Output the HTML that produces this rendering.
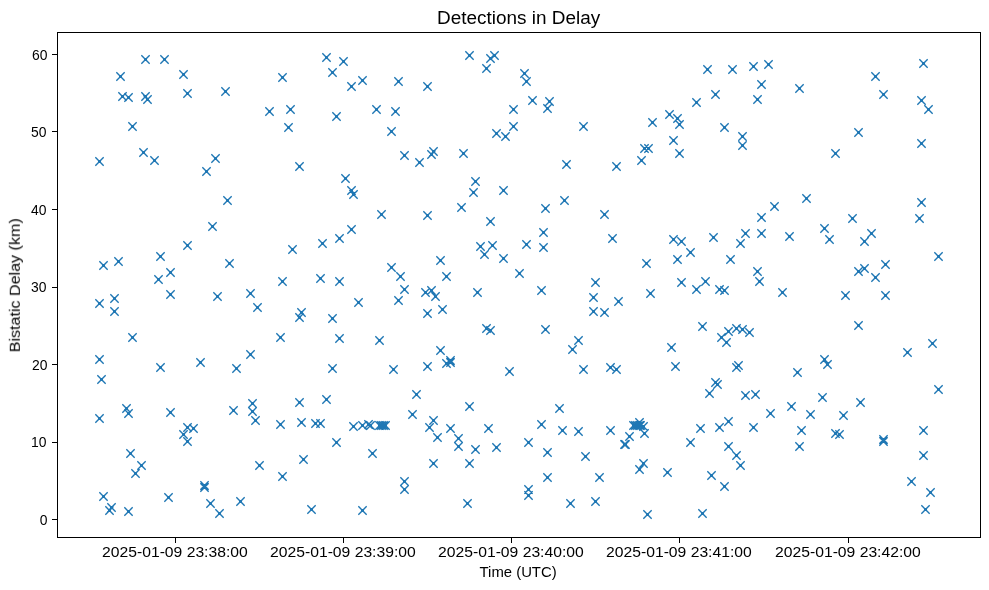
<!DOCTYPE html>
<html><head><meta charset="utf-8"><title>Detections in Delay</title>
<style>
html,body{margin:0;padding:0;background:#fff;}
svg{display:block;}
text{will-change:transform;}
.t{font-family:"Liberation Sans",sans-serif;font-size:13.9px;fill:#000;}
.ti{font-family:"Liberation Sans",sans-serif;font-size:17.5px;fill:#000;}
</style></head>
<body>
<svg width="989" height="590" viewBox="0 0 989 590">
<rect width="989" height="590" fill="#fff"/>
<path d="M141.33 55.33l8.34 8.34m0 -8.34l-8.34 8.34M160.33 55.33l8.34 8.34m0 -8.34l-8.34 8.34M116.33 72.33l8.34 8.34m0 -8.34l-8.34 8.34M179.33 70.33l8.34 8.34m0 -8.34l-8.34 8.34M118.33 92.33l8.34 8.34m0 -8.34l-8.34 8.34M124.33 93.33l8.34 8.34m0 -8.34l-8.34 8.34M141.33 92.33l8.34 8.34m0 -8.34l-8.34 8.34M143.33 95.33l8.34 8.34m0 -8.34l-8.34 8.34M183.33 89.33l8.34 8.34m0 -8.34l-8.34 8.34M221.33 87.33l8.34 8.34m0 -8.34l-8.34 8.34M128.33 122.33l8.34 8.34m0 -8.34l-8.34 8.34M322.33 53.33l8.34 8.34m0 -8.34l-8.34 8.34M339.33 57.33l8.34 8.34m0 -8.34l-8.34 8.34M328.33 68.33l8.34 8.34m0 -8.34l-8.34 8.34M278.33 73.33l8.34 8.34m0 -8.34l-8.34 8.34M347.33 82.33l8.34 8.34m0 -8.34l-8.34 8.34M358.33 76.33l8.34 8.34m0 -8.34l-8.34 8.34M394.33 77.33l8.34 8.34m0 -8.34l-8.34 8.34M423.33 82.33l8.34 8.34m0 -8.34l-8.34 8.34M265.33 107.33l8.34 8.34m0 -8.34l-8.34 8.34M286.33 105.33l8.34 8.34m0 -8.34l-8.34 8.34M284.33 123.33l8.34 8.34m0 -8.34l-8.34 8.34M332.33 112.33l8.34 8.34m0 -8.34l-8.34 8.34M372.33 105.33l8.34 8.34m0 -8.34l-8.34 8.34M391.33 107.33l8.34 8.34m0 -8.34l-8.34 8.34M387.33 127.33l8.34 8.34m0 -8.34l-8.34 8.34M465.33 51.33l8.34 8.34m0 -8.34l-8.34 8.34M486.33 54.33l8.34 8.34m0 -8.34l-8.34 8.34M490.33 51.33l8.34 8.34m0 -8.34l-8.34 8.34M482.33 64.33l8.34 8.34m0 -8.34l-8.34 8.34M520.33 69.33l8.34 8.34m0 -8.34l-8.34 8.34M522.33 77.33l8.34 8.34m0 -8.34l-8.34 8.34M528.33 96.33l8.34 8.34m0 -8.34l-8.34 8.34M545.33 97.33l8.34 8.34m0 -8.34l-8.34 8.34M543.33 104.33l8.34 8.34m0 -8.34l-8.34 8.34M509.33 105.33l8.34 8.34m0 -8.34l-8.34 8.34M509.33 122.33l8.34 8.34m0 -8.34l-8.34 8.34M492.33 129.33l8.34 8.34m0 -8.34l-8.34 8.34M501.33 132.33l8.34 8.34m0 -8.34l-8.34 8.34M579.33 122.33l8.34 8.34m0 -8.34l-8.34 8.34M703.33 65.33l8.34 8.34m0 -8.34l-8.34 8.34M728.33 65.33l8.34 8.34m0 -8.34l-8.34 8.34M749.33 62.33l8.34 8.34m0 -8.34l-8.34 8.34M764.33 60.33l8.34 8.34m0 -8.34l-8.34 8.34M757.33 80.33l8.34 8.34m0 -8.34l-8.34 8.34M795.33 84.33l8.34 8.34m0 -8.34l-8.34 8.34M711.33 90.33l8.34 8.34m0 -8.34l-8.34 8.34M753.33 95.33l8.34 8.34m0 -8.34l-8.34 8.34M692.33 98.33l8.34 8.34m0 -8.34l-8.34 8.34M665.33 110.33l8.34 8.34m0 -8.34l-8.34 8.34M673.33 114.33l8.34 8.34m0 -8.34l-8.34 8.34M675.33 120.33l8.34 8.34m0 -8.34l-8.34 8.34M648.33 118.33l8.34 8.34m0 -8.34l-8.34 8.34M720.33 123.33l8.34 8.34m0 -8.34l-8.34 8.34M738.33 132.33l8.34 8.34m0 -8.34l-8.34 8.34M738.33 141.33l8.34 8.34m0 -8.34l-8.34 8.34M669.33 136.33l8.34 8.34m0 -8.34l-8.34 8.34M640.33 144.33l8.34 8.34m0 -8.34l-8.34 8.34M644.33 144.33l8.34 8.34m0 -8.34l-8.34 8.34M919.33 59.33l8.34 8.34m0 -8.34l-8.34 8.34M871.33 72.33l8.34 8.34m0 -8.34l-8.34 8.34M879.33 90.33l8.34 8.34m0 -8.34l-8.34 8.34M917.33 96.33l8.34 8.34m0 -8.34l-8.34 8.34M924.33 105.33l8.34 8.34m0 -8.34l-8.34 8.34M854.33 128.33l8.34 8.34m0 -8.34l-8.34 8.34M917.33 139.33l8.34 8.34m0 -8.34l-8.34 8.34M95.33 157.33l8.34 8.34m0 -8.34l-8.34 8.34M139.33 148.33l8.34 8.34m0 -8.34l-8.34 8.34M150.33 156.33l8.34 8.34m0 -8.34l-8.34 8.34M211.33 154.33l8.34 8.34m0 -8.34l-8.34 8.34M202.33 167.33l8.34 8.34m0 -8.34l-8.34 8.34M223.33 196.33l8.34 8.34m0 -8.34l-8.34 8.34M208.33 222.33l8.34 8.34m0 -8.34l-8.34 8.34M183.33 241.33l8.34 8.34m0 -8.34l-8.34 8.34M156.33 252.33l8.34 8.34m0 -8.34l-8.34 8.34M114.33 257.33l8.34 8.34m0 -8.34l-8.34 8.34M99.33 261.33l8.34 8.34m0 -8.34l-8.34 8.34M225.33 259.33l8.34 8.34m0 -8.34l-8.34 8.34M295.33 162.33l8.34 8.34m0 -8.34l-8.34 8.34M341.33 174.33l8.34 8.34m0 -8.34l-8.34 8.34M347.33 186.33l8.34 8.34m0 -8.34l-8.34 8.34M349.33 190.33l8.34 8.34m0 -8.34l-8.34 8.34M400.33 151.33l8.34 8.34m0 -8.34l-8.34 8.34M415.33 158.33l8.34 8.34m0 -8.34l-8.34 8.34M427.33 150.33l8.34 8.34m0 -8.34l-8.34 8.34M429.33 147.33l8.34 8.34m0 -8.34l-8.34 8.34M377.33 210.33l8.34 8.34m0 -8.34l-8.34 8.34M423.33 211.33l8.34 8.34m0 -8.34l-8.34 8.34M347.33 225.33l8.34 8.34m0 -8.34l-8.34 8.34M335.33 234.33l8.34 8.34m0 -8.34l-8.34 8.34M318.33 239.33l8.34 8.34m0 -8.34l-8.34 8.34M288.33 245.33l8.34 8.34m0 -8.34l-8.34 8.34M436.33 256.33l8.34 8.34m0 -8.34l-8.34 8.34M387.33 263.33l8.34 8.34m0 -8.34l-8.34 8.34M459.33 149.33l8.34 8.34m0 -8.34l-8.34 8.34M471.33 177.33l8.34 8.34m0 -8.34l-8.34 8.34M469.33 188.33l8.34 8.34m0 -8.34l-8.34 8.34M499.33 186.33l8.34 8.34m0 -8.34l-8.34 8.34M457.33 203.33l8.34 8.34m0 -8.34l-8.34 8.34M486.33 217.33l8.34 8.34m0 -8.34l-8.34 8.34M562.33 160.33l8.34 8.34m0 -8.34l-8.34 8.34M612.33 162.33l8.34 8.34m0 -8.34l-8.34 8.34M637.33 156.33l8.34 8.34m0 -8.34l-8.34 8.34M560.33 196.33l8.34 8.34m0 -8.34l-8.34 8.34M541.33 204.33l8.34 8.34m0 -8.34l-8.34 8.34M600.33 210.33l8.34 8.34m0 -8.34l-8.34 8.34M539.33 228.33l8.34 8.34m0 -8.34l-8.34 8.34M608.33 234.33l8.34 8.34m0 -8.34l-8.34 8.34M476.33 242.33l8.34 8.34m0 -8.34l-8.34 8.34M488.33 241.33l8.34 8.34m0 -8.34l-8.34 8.34M480.33 250.33l8.34 8.34m0 -8.34l-8.34 8.34M499.33 254.33l8.34 8.34m0 -8.34l-8.34 8.34M522.33 240.33l8.34 8.34m0 -8.34l-8.34 8.34M539.33 243.33l8.34 8.34m0 -8.34l-8.34 8.34M642.33 259.33l8.34 8.34m0 -8.34l-8.34 8.34M675.33 149.33l8.34 8.34m0 -8.34l-8.34 8.34M831.33 149.33l8.34 8.34m0 -8.34l-8.34 8.34M802.33 194.33l8.34 8.34m0 -8.34l-8.34 8.34M770.33 202.33l8.34 8.34m0 -8.34l-8.34 8.34M757.33 213.33l8.34 8.34m0 -8.34l-8.34 8.34M741.33 229.33l8.34 8.34m0 -8.34l-8.34 8.34M757.33 229.33l8.34 8.34m0 -8.34l-8.34 8.34M736.33 239.33l8.34 8.34m0 -8.34l-8.34 8.34M785.33 232.33l8.34 8.34m0 -8.34l-8.34 8.34M820.33 224.33l8.34 8.34m0 -8.34l-8.34 8.34M825.33 235.33l8.34 8.34m0 -8.34l-8.34 8.34M709.33 233.33l8.34 8.34m0 -8.34l-8.34 8.34M669.33 235.33l8.34 8.34m0 -8.34l-8.34 8.34M677.33 237.33l8.34 8.34m0 -8.34l-8.34 8.34M686.33 248.33l8.34 8.34m0 -8.34l-8.34 8.34M673.33 255.33l8.34 8.34m0 -8.34l-8.34 8.34M726.33 255.33l8.34 8.34m0 -8.34l-8.34 8.34M917.33 198.33l8.34 8.34m0 -8.34l-8.34 8.34M915.33 214.33l8.34 8.34m0 -8.34l-8.34 8.34M848.33 214.33l8.34 8.34m0 -8.34l-8.34 8.34M867.33 229.33l8.34 8.34m0 -8.34l-8.34 8.34M860.33 237.33l8.34 8.34m0 -8.34l-8.34 8.34M934.33 252.33l8.34 8.34m0 -8.34l-8.34 8.34M881.33 260.33l8.34 8.34m0 -8.34l-8.34 8.34M860.33 264.33l8.34 8.34m0 -8.34l-8.34 8.34M154.33 275.33l8.34 8.34m0 -8.34l-8.34 8.34M166.33 268.33l8.34 8.34m0 -8.34l-8.34 8.34M166.33 290.33l8.34 8.34m0 -8.34l-8.34 8.34M95.33 299.33l8.34 8.34m0 -8.34l-8.34 8.34M110.33 294.33l8.34 8.34m0 -8.34l-8.34 8.34M110.33 307.33l8.34 8.34m0 -8.34l-8.34 8.34M213.33 292.33l8.34 8.34m0 -8.34l-8.34 8.34M246.33 289.33l8.34 8.34m0 -8.34l-8.34 8.34M128.33 333.33l8.34 8.34m0 -8.34l-8.34 8.34M95.33 355.33l8.34 8.34m0 -8.34l-8.34 8.34M156.33 363.33l8.34 8.34m0 -8.34l-8.34 8.34M196.33 358.33l8.34 8.34m0 -8.34l-8.34 8.34M232.33 364.33l8.34 8.34m0 -8.34l-8.34 8.34M246.33 350.33l8.34 8.34m0 -8.34l-8.34 8.34M97.33 375.33l8.34 8.34m0 -8.34l-8.34 8.34M396.33 272.33l8.34 8.34m0 -8.34l-8.34 8.34M442.33 272.33l8.34 8.34m0 -8.34l-8.34 8.34M278.33 277.33l8.34 8.34m0 -8.34l-8.34 8.34M316.33 274.33l8.34 8.34m0 -8.34l-8.34 8.34M335.33 277.33l8.34 8.34m0 -8.34l-8.34 8.34M400.33 285.33l8.34 8.34m0 -8.34l-8.34 8.34M394.33 296.33l8.34 8.34m0 -8.34l-8.34 8.34M421.33 288.33l8.34 8.34m0 -8.34l-8.34 8.34M427.33 286.33l8.34 8.34m0 -8.34l-8.34 8.34M431.33 292.33l8.34 8.34m0 -8.34l-8.34 8.34M354.33 298.33l8.34 8.34m0 -8.34l-8.34 8.34M253.33 303.33l8.34 8.34m0 -8.34l-8.34 8.34M297.33 308.33l8.34 8.34m0 -8.34l-8.34 8.34M295.33 313.33l8.34 8.34m0 -8.34l-8.34 8.34M328.33 314.33l8.34 8.34m0 -8.34l-8.34 8.34M423.33 309.33l8.34 8.34m0 -8.34l-8.34 8.34M438.33 305.33l8.34 8.34m0 -8.34l-8.34 8.34M276.33 333.33l8.34 8.34m0 -8.34l-8.34 8.34M335.33 334.33l8.34 8.34m0 -8.34l-8.34 8.34M375.33 336.33l8.34 8.34m0 -8.34l-8.34 8.34M436.33 346.33l8.34 8.34m0 -8.34l-8.34 8.34M328.33 364.33l8.34 8.34m0 -8.34l-8.34 8.34M389.33 365.33l8.34 8.34m0 -8.34l-8.34 8.34M423.33 362.33l8.34 8.34m0 -8.34l-8.34 8.34M442.33 359.33l8.34 8.34m0 -8.34l-8.34 8.34M446.33 356.33l8.34 8.34m0 -8.34l-8.34 8.34M446.33 358.33l8.34 8.34m0 -8.34l-8.34 8.34M515.33 269.33l8.34 8.34m0 -8.34l-8.34 8.34M473.33 288.33l8.34 8.34m0 -8.34l-8.34 8.34M537.33 286.33l8.34 8.34m0 -8.34l-8.34 8.34M591.33 278.33l8.34 8.34m0 -8.34l-8.34 8.34M589.33 293.33l8.34 8.34m0 -8.34l-8.34 8.34M614.33 297.33l8.34 8.34m0 -8.34l-8.34 8.34M589.33 307.33l8.34 8.34m0 -8.34l-8.34 8.34M600.33 308.33l8.34 8.34m0 -8.34l-8.34 8.34M482.33 324.33l8.34 8.34m0 -8.34l-8.34 8.34M486.33 326.33l8.34 8.34m0 -8.34l-8.34 8.34M541.33 325.33l8.34 8.34m0 -8.34l-8.34 8.34M574.33 336.33l8.34 8.34m0 -8.34l-8.34 8.34M568.33 345.33l8.34 8.34m0 -8.34l-8.34 8.34M505.33 367.33l8.34 8.34m0 -8.34l-8.34 8.34M579.33 365.33l8.34 8.34m0 -8.34l-8.34 8.34M606.33 363.33l8.34 8.34m0 -8.34l-8.34 8.34M612.33 365.33l8.34 8.34m0 -8.34l-8.34 8.34M753.33 267.33l8.34 8.34m0 -8.34l-8.34 8.34M755.33 277.33l8.34 8.34m0 -8.34l-8.34 8.34M677.33 278.33l8.34 8.34m0 -8.34l-8.34 8.34M701.33 277.33l8.34 8.34m0 -8.34l-8.34 8.34M692.33 285.33l8.34 8.34m0 -8.34l-8.34 8.34M715.33 285.33l8.34 8.34m0 -8.34l-8.34 8.34M720.33 286.33l8.34 8.34m0 -8.34l-8.34 8.34M778.33 288.33l8.34 8.34m0 -8.34l-8.34 8.34M646.33 289.33l8.34 8.34m0 -8.34l-8.34 8.34M841.33 291.33l8.34 8.34m0 -8.34l-8.34 8.34M698.33 322.33l8.34 8.34m0 -8.34l-8.34 8.34M724.33 327.33l8.34 8.34m0 -8.34l-8.34 8.34M732.33 324.33l8.34 8.34m0 -8.34l-8.34 8.34M738.33 325.33l8.34 8.34m0 -8.34l-8.34 8.34M745.33 328.33l8.34 8.34m0 -8.34l-8.34 8.34M717.33 333.33l8.34 8.34m0 -8.34l-8.34 8.34M722.33 338.33l8.34 8.34m0 -8.34l-8.34 8.34M667.33 343.33l8.34 8.34m0 -8.34l-8.34 8.34M671.33 362.33l8.34 8.34m0 -8.34l-8.34 8.34M732.33 363.33l8.34 8.34m0 -8.34l-8.34 8.34M734.33 361.33l8.34 8.34m0 -8.34l-8.34 8.34M793.33 368.33l8.34 8.34m0 -8.34l-8.34 8.34M820.33 355.33l8.34 8.34m0 -8.34l-8.34 8.34M823.33 360.33l8.34 8.34m0 -8.34l-8.34 8.34M711.33 378.33l8.34 8.34m0 -8.34l-8.34 8.34M713.33 380.33l8.34 8.34m0 -8.34l-8.34 8.34M854.33 267.33l8.34 8.34m0 -8.34l-8.34 8.34M871.33 273.33l8.34 8.34m0 -8.34l-8.34 8.34M881.33 291.33l8.34 8.34m0 -8.34l-8.34 8.34M854.33 321.33l8.34 8.34m0 -8.34l-8.34 8.34M928.33 339.33l8.34 8.34m0 -8.34l-8.34 8.34M903.33 348.33l8.34 8.34m0 -8.34l-8.34 8.34M95.33 414.33l8.34 8.34m0 -8.34l-8.34 8.34M122.33 404.33l8.34 8.34m0 -8.34l-8.34 8.34M124.33 409.33l8.34 8.34m0 -8.34l-8.34 8.34M166.33 408.33l8.34 8.34m0 -8.34l-8.34 8.34M229.33 406.33l8.34 8.34m0 -8.34l-8.34 8.34M183.33 423.33l8.34 8.34m0 -8.34l-8.34 8.34M189.33 424.33l8.34 8.34m0 -8.34l-8.34 8.34M179.33 430.33l8.34 8.34m0 -8.34l-8.34 8.34M183.33 437.33l8.34 8.34m0 -8.34l-8.34 8.34M126.33 449.33l8.34 8.34m0 -8.34l-8.34 8.34M137.33 461.33l8.34 8.34m0 -8.34l-8.34 8.34M131.33 469.33l8.34 8.34m0 -8.34l-8.34 8.34M200.33 481.33l8.34 8.34m0 -8.34l-8.34 8.34M200.33 483.33l8.34 8.34m0 -8.34l-8.34 8.34M99.33 492.33l8.34 8.34m0 -8.34l-8.34 8.34M164.33 493.33l8.34 8.34m0 -8.34l-8.34 8.34M206.33 499.33l8.34 8.34m0 -8.34l-8.34 8.34M236.33 497.33l8.34 8.34m0 -8.34l-8.34 8.34M412.33 390.33l8.34 8.34m0 -8.34l-8.34 8.34M295.33 398.33l8.34 8.34m0 -8.34l-8.34 8.34M322.33 395.33l8.34 8.34m0 -8.34l-8.34 8.34M408.33 410.33l8.34 8.34m0 -8.34l-8.34 8.34M276.33 420.33l8.34 8.34m0 -8.34l-8.34 8.34M297.33 418.33l8.34 8.34m0 -8.34l-8.34 8.34M311.33 419.33l8.34 8.34m0 -8.34l-8.34 8.34M316.33 419.33l8.34 8.34m0 -8.34l-8.34 8.34M349.33 422.33l8.34 8.34m0 -8.34l-8.34 8.34M358.33 421.33l8.34 8.34m0 -8.34l-8.34 8.34M364.33 420.33l8.34 8.34m0 -8.34l-8.34 8.34M366.33 421.33l8.34 8.34m0 -8.34l-8.34 8.34M375.33 421.33l8.34 8.34m0 -8.34l-8.34 8.34M377.33 421.33l8.34 8.34m0 -8.34l-8.34 8.34M379.33 421.33l8.34 8.34m0 -8.34l-8.34 8.34M381.33 421.33l8.34 8.34m0 -8.34l-8.34 8.34M429.33 416.33l8.34 8.34m0 -8.34l-8.34 8.34M425.33 423.33l8.34 8.34m0 -8.34l-8.34 8.34M433.33 433.33l8.34 8.34m0 -8.34l-8.34 8.34M446.33 424.33l8.34 8.34m0 -8.34l-8.34 8.34M248.33 399.33l8.34 8.34m0 -8.34l-8.34 8.34M248.33 407.33l8.34 8.34m0 -8.34l-8.34 8.34M251.33 416.33l8.34 8.34m0 -8.34l-8.34 8.34M332.33 438.33l8.34 8.34m0 -8.34l-8.34 8.34M368.33 449.33l8.34 8.34m0 -8.34l-8.34 8.34M299.33 455.33l8.34 8.34m0 -8.34l-8.34 8.34M255.33 461.33l8.34 8.34m0 -8.34l-8.34 8.34M278.33 472.33l8.34 8.34m0 -8.34l-8.34 8.34M429.33 459.33l8.34 8.34m0 -8.34l-8.34 8.34M400.33 477.33l8.34 8.34m0 -8.34l-8.34 8.34M400.33 485.33l8.34 8.34m0 -8.34l-8.34 8.34M465.33 402.33l8.34 8.34m0 -8.34l-8.34 8.34M555.33 404.33l8.34 8.34m0 -8.34l-8.34 8.34M484.33 424.33l8.34 8.34m0 -8.34l-8.34 8.34M454.33 434.33l8.34 8.34m0 -8.34l-8.34 8.34M454.33 442.33l8.34 8.34m0 -8.34l-8.34 8.34M471.33 445.33l8.34 8.34m0 -8.34l-8.34 8.34M492.33 443.33l8.34 8.34m0 -8.34l-8.34 8.34M465.33 459.33l8.34 8.34m0 -8.34l-8.34 8.34M537.33 420.33l8.34 8.34m0 -8.34l-8.34 8.34M558.33 426.33l8.34 8.34m0 -8.34l-8.34 8.34M574.33 427.33l8.34 8.34m0 -8.34l-8.34 8.34M524.33 438.33l8.34 8.34m0 -8.34l-8.34 8.34M543.33 448.33l8.34 8.34m0 -8.34l-8.34 8.34M581.33 452.33l8.34 8.34m0 -8.34l-8.34 8.34M606.33 426.33l8.34 8.34m0 -8.34l-8.34 8.34M625.33 432.33l8.34 8.34m0 -8.34l-8.34 8.34M620.33 440.33l8.34 8.34m0 -8.34l-8.34 8.34M621.33 440.33l8.34 8.34m0 -8.34l-8.34 8.34M543.33 473.33l8.34 8.34m0 -8.34l-8.34 8.34M595.33 473.33l8.34 8.34m0 -8.34l-8.34 8.34M524.33 485.33l8.34 8.34m0 -8.34l-8.34 8.34M524.33 491.33l8.34 8.34m0 -8.34l-8.34 8.34M463.33 499.33l8.34 8.34m0 -8.34l-8.34 8.34M566.33 499.33l8.34 8.34m0 -8.34l-8.34 8.34M591.33 497.33l8.34 8.34m0 -8.34l-8.34 8.34M629.33 421.33l8.34 8.34m0 -8.34l-8.34 8.34M631.33 421.33l8.34 8.34m0 -8.34l-8.34 8.34M633.33 421.33l8.34 8.34m0 -8.34l-8.34 8.34M635.33 421.33l8.34 8.34m0 -8.34l-8.34 8.34M636.33 421.33l8.34 8.34m0 -8.34l-8.34 8.34M635.33 418.33l8.34 8.34m0 -8.34l-8.34 8.34M639.33 422.33l8.34 8.34m0 -8.34l-8.34 8.34M640.33 429.33l8.34 8.34m0 -8.34l-8.34 8.34M635.33 465.33l8.34 8.34m0 -8.34l-8.34 8.34M639.33 459.33l8.34 8.34m0 -8.34l-8.34 8.34M705.33 389.33l8.34 8.34m0 -8.34l-8.34 8.34M741.33 391.33l8.34 8.34m0 -8.34l-8.34 8.34M751.33 390.33l8.34 8.34m0 -8.34l-8.34 8.34M818.33 393.33l8.34 8.34m0 -8.34l-8.34 8.34M787.33 402.33l8.34 8.34m0 -8.34l-8.34 8.34M766.33 409.33l8.34 8.34m0 -8.34l-8.34 8.34M806.33 410.33l8.34 8.34m0 -8.34l-8.34 8.34M839.33 411.33l8.34 8.34m0 -8.34l-8.34 8.34M724.33 417.33l8.34 8.34m0 -8.34l-8.34 8.34M715.33 423.33l8.34 8.34m0 -8.34l-8.34 8.34M696.33 424.33l8.34 8.34m0 -8.34l-8.34 8.34M749.33 423.33l8.34 8.34m0 -8.34l-8.34 8.34M797.33 426.33l8.34 8.34m0 -8.34l-8.34 8.34M831.33 429.33l8.34 8.34m0 -8.34l-8.34 8.34M835.33 430.33l8.34 8.34m0 -8.34l-8.34 8.34M686.33 438.33l8.34 8.34m0 -8.34l-8.34 8.34M724.33 442.33l8.34 8.34m0 -8.34l-8.34 8.34M795.33 442.33l8.34 8.34m0 -8.34l-8.34 8.34M732.33 451.33l8.34 8.34m0 -8.34l-8.34 8.34M736.33 461.33l8.34 8.34m0 -8.34l-8.34 8.34M663.33 468.33l8.34 8.34m0 -8.34l-8.34 8.34M707.33 471.33l8.34 8.34m0 -8.34l-8.34 8.34M720.33 482.33l8.34 8.34m0 -8.34l-8.34 8.34M934.33 385.33l8.34 8.34m0 -8.34l-8.34 8.34M856.33 398.33l8.34 8.34m0 -8.34l-8.34 8.34M919.33 426.33l8.34 8.34m0 -8.34l-8.34 8.34M879.33 435.33l8.34 8.34m0 -8.34l-8.34 8.34M879.33 437.33l8.34 8.34m0 -8.34l-8.34 8.34M919.33 451.33l8.34 8.34m0 -8.34l-8.34 8.34M907.33 477.33l8.34 8.34m0 -8.34l-8.34 8.34M926.33 488.33l8.34 8.34m0 -8.34l-8.34 8.34M107.33 503.33l8.34 8.34m0 -8.34l-8.34 8.34M105.33 506.33l8.34 8.34m0 -8.34l-8.34 8.34M124.33 507.33l8.34 8.34m0 -8.34l-8.34 8.34M215.33 509.33l8.34 8.34m0 -8.34l-8.34 8.34M307.33 505.33l8.34 8.34m0 -8.34l-8.34 8.34M358.33 506.33l8.34 8.34m0 -8.34l-8.34 8.34M643.33 510.33l8.34 8.34m0 -8.34l-8.34 8.34M698.33 509.33l8.34 8.34m0 -8.34l-8.34 8.34M921.33 505.33l8.34 8.34m0 -8.34l-8.34 8.34" fill="none" stroke="#1f77b4" stroke-width="1.39"/>
<path d="M144 58h3v3h-3zM163 58h3v3h-3zM119 75h3v3h-3zM182 73h3v3h-3zM121 95h3v3h-3zM127 96h3v3h-3zM144 95h3v3h-3zM146 98h3v3h-3zM186 92h3v3h-3zM224 90h3v3h-3zM131 125h3v3h-3zM325 56h3v3h-3zM342 60h3v3h-3zM331 71h3v3h-3zM281 76h3v3h-3zM350 85h3v3h-3zM361 79h3v3h-3zM397 80h3v3h-3zM426 85h3v3h-3zM268 110h3v3h-3zM289 108h3v3h-3zM287 126h3v3h-3zM335 115h3v3h-3zM375 108h3v3h-3zM394 110h3v3h-3zM390 130h3v3h-3zM468 54h3v3h-3zM489 57h3v3h-3zM493 54h3v3h-3zM485 67h3v3h-3zM523 72h3v3h-3zM525 80h3v3h-3zM531 99h3v3h-3zM548 100h3v3h-3zM546 107h3v3h-3zM512 108h3v3h-3zM512 125h3v3h-3zM495 132h3v3h-3zM504 135h3v3h-3zM582 125h3v3h-3zM706 68h3v3h-3zM731 68h3v3h-3zM752 65h3v3h-3zM767 63h3v3h-3zM760 83h3v3h-3zM798 87h3v3h-3zM714 93h3v3h-3zM756 98h3v3h-3zM695 101h3v3h-3zM668 113h3v3h-3zM676 117h3v3h-3zM678 123h3v3h-3zM651 121h3v3h-3zM723 126h3v3h-3zM741 135h3v3h-3zM741 144h3v3h-3zM672 139h3v3h-3zM643 147h3v3h-3zM647 147h3v3h-3zM922 62h3v3h-3zM874 75h3v3h-3zM882 93h3v3h-3zM920 99h3v3h-3zM927 108h3v3h-3zM857 131h3v3h-3zM920 142h3v3h-3zM98 160h3v3h-3zM142 151h3v3h-3zM153 159h3v3h-3zM214 157h3v3h-3zM205 170h3v3h-3zM226 199h3v3h-3zM211 225h3v3h-3zM186 244h3v3h-3zM159 255h3v3h-3zM117 260h3v3h-3zM102 264h3v3h-3zM228 262h3v3h-3zM298 165h3v3h-3zM344 177h3v3h-3zM350 189h3v3h-3zM352 193h3v3h-3zM403 154h3v3h-3zM418 161h3v3h-3zM430 153h3v3h-3zM432 150h3v3h-3zM380 213h3v3h-3zM426 214h3v3h-3zM350 228h3v3h-3zM338 237h3v3h-3zM321 242h3v3h-3zM291 248h3v3h-3zM439 259h3v3h-3zM390 266h3v3h-3zM462 152h3v3h-3zM474 180h3v3h-3zM472 191h3v3h-3zM502 189h3v3h-3zM460 206h3v3h-3zM489 220h3v3h-3zM565 163h3v3h-3zM615 165h3v3h-3zM640 159h3v3h-3zM563 199h3v3h-3zM544 207h3v3h-3zM603 213h3v3h-3zM542 231h3v3h-3zM611 237h3v3h-3zM479 245h3v3h-3zM491 244h3v3h-3zM483 253h3v3h-3zM502 257h3v3h-3zM525 243h3v3h-3zM542 246h3v3h-3zM645 262h3v3h-3zM678 152h3v3h-3zM834 152h3v3h-3zM805 197h3v3h-3zM773 205h3v3h-3zM760 216h3v3h-3zM744 232h3v3h-3zM760 232h3v3h-3zM739 242h3v3h-3zM788 235h3v3h-3zM823 227h3v3h-3zM828 238h3v3h-3zM712 236h3v3h-3zM672 238h3v3h-3zM680 240h3v3h-3zM689 251h3v3h-3zM676 258h3v3h-3zM729 258h3v3h-3zM920 201h3v3h-3zM918 217h3v3h-3zM851 217h3v3h-3zM870 232h3v3h-3zM863 240h3v3h-3zM937 255h3v3h-3zM884 263h3v3h-3zM863 267h3v3h-3zM157 278h3v3h-3zM169 271h3v3h-3zM169 293h3v3h-3zM98 302h3v3h-3zM113 297h3v3h-3zM113 310h3v3h-3zM216 295h3v3h-3zM249 292h3v3h-3zM131 336h3v3h-3zM98 358h3v3h-3zM159 366h3v3h-3zM199 361h3v3h-3zM235 367h3v3h-3zM249 353h3v3h-3zM100 378h3v3h-3zM399 275h3v3h-3zM445 275h3v3h-3zM281 280h3v3h-3zM319 277h3v3h-3zM338 280h3v3h-3zM403 288h3v3h-3zM397 299h3v3h-3zM424 291h3v3h-3zM430 289h3v3h-3zM434 295h3v3h-3zM357 301h3v3h-3zM256 306h3v3h-3zM300 311h3v3h-3zM298 316h3v3h-3zM331 317h3v3h-3zM426 312h3v3h-3zM441 308h3v3h-3zM279 336h3v3h-3zM338 337h3v3h-3zM378 339h3v3h-3zM439 349h3v3h-3zM331 367h3v3h-3zM392 368h3v3h-3zM426 365h3v3h-3zM445 362h3v3h-3zM449 359h3v3h-3zM449 361h3v3h-3zM518 272h3v3h-3zM476 291h3v3h-3zM540 289h3v3h-3zM594 281h3v3h-3zM592 296h3v3h-3zM617 300h3v3h-3zM592 310h3v3h-3zM603 311h3v3h-3zM485 327h3v3h-3zM489 329h3v3h-3zM544 328h3v3h-3zM577 339h3v3h-3zM571 348h3v3h-3zM508 370h3v3h-3zM582 368h3v3h-3zM609 366h3v3h-3zM615 368h3v3h-3zM756 270h3v3h-3zM758 280h3v3h-3zM680 281h3v3h-3zM704 280h3v3h-3zM695 288h3v3h-3zM718 288h3v3h-3zM723 289h3v3h-3zM781 291h3v3h-3zM649 292h3v3h-3zM844 294h3v3h-3zM701 325h3v3h-3zM727 330h3v3h-3zM735 327h3v3h-3zM741 328h3v3h-3zM748 331h3v3h-3zM720 336h3v3h-3zM725 341h3v3h-3zM670 346h3v3h-3zM674 365h3v3h-3zM735 366h3v3h-3zM737 364h3v3h-3zM796 371h3v3h-3zM823 358h3v3h-3zM826 363h3v3h-3zM714 381h3v3h-3zM716 383h3v3h-3zM857 270h3v3h-3zM874 276h3v3h-3zM884 294h3v3h-3zM857 324h3v3h-3zM931 342h3v3h-3zM906 351h3v3h-3zM98 417h3v3h-3zM125 407h3v3h-3zM127 412h3v3h-3zM169 411h3v3h-3zM232 409h3v3h-3zM186 426h3v3h-3zM192 427h3v3h-3zM182 433h3v3h-3zM186 440h3v3h-3zM129 452h3v3h-3zM140 464h3v3h-3zM134 472h3v3h-3zM203 484h3v3h-3zM203 486h3v3h-3zM102 495h3v3h-3zM167 496h3v3h-3zM209 502h3v3h-3zM239 500h3v3h-3zM415 393h3v3h-3zM298 401h3v3h-3zM325 398h3v3h-3zM411 413h3v3h-3zM279 423h3v3h-3zM300 421h3v3h-3zM314 422h3v3h-3zM319 422h3v3h-3zM352 425h3v3h-3zM361 424h3v3h-3zM367 423h3v3h-3zM369 424h3v3h-3zM378 424h3v3h-3zM380 424h3v3h-3zM382 424h3v3h-3zM384 424h3v3h-3zM432 419h3v3h-3zM428 426h3v3h-3zM436 436h3v3h-3zM449 427h3v3h-3zM251 402h3v3h-3zM251 410h3v3h-3zM254 419h3v3h-3zM335 441h3v3h-3zM371 452h3v3h-3zM302 458h3v3h-3zM258 464h3v3h-3zM281 475h3v3h-3zM432 462h3v3h-3zM403 480h3v3h-3zM403 488h3v3h-3zM468 405h3v3h-3zM558 407h3v3h-3zM487 427h3v3h-3zM457 437h3v3h-3zM457 445h3v3h-3zM474 448h3v3h-3zM495 446h3v3h-3zM468 462h3v3h-3zM540 423h3v3h-3zM561 429h3v3h-3zM577 430h3v3h-3zM527 441h3v3h-3zM546 451h3v3h-3zM584 455h3v3h-3zM609 429h3v3h-3zM628 435h3v3h-3zM623 443h3v3h-3zM624 443h3v3h-3zM546 476h3v3h-3zM598 476h3v3h-3zM527 488h3v3h-3zM527 494h3v3h-3zM466 502h3v3h-3zM569 502h3v3h-3zM594 500h3v3h-3zM632 424h3v3h-3zM634 424h3v3h-3zM636 424h3v3h-3zM638 424h3v3h-3zM639 424h3v3h-3zM638 421h3v3h-3zM642 425h3v3h-3zM643 432h3v3h-3zM638 468h3v3h-3zM642 462h3v3h-3zM708 392h3v3h-3zM744 394h3v3h-3zM754 393h3v3h-3zM821 396h3v3h-3zM790 405h3v3h-3zM769 412h3v3h-3zM809 413h3v3h-3zM842 414h3v3h-3zM727 420h3v3h-3zM718 426h3v3h-3zM699 427h3v3h-3zM752 426h3v3h-3zM800 429h3v3h-3zM834 432h3v3h-3zM838 433h3v3h-3zM689 441h3v3h-3zM727 445h3v3h-3zM798 445h3v3h-3zM735 454h3v3h-3zM739 464h3v3h-3zM666 471h3v3h-3zM710 474h3v3h-3zM723 485h3v3h-3zM937 388h3v3h-3zM859 401h3v3h-3zM922 429h3v3h-3zM882 438h3v3h-3zM882 440h3v3h-3zM922 454h3v3h-3zM910 480h3v3h-3zM929 491h3v3h-3zM110 506h3v3h-3zM108 509h3v3h-3zM127 510h3v3h-3zM218 512h3v3h-3zM310 508h3v3h-3zM361 509h3v3h-3zM646 513h3v3h-3zM701 512h3v3h-3zM924 508h3v3h-3z" fill="#1f77b4" fill-opacity="1"/>
<rect x="57.5" y="32.5" width="923" height="505" fill="none" stroke="#000" stroke-width="1" shape-rendering="crispEdges"/>
<path d="M52 519.5H57M52 442.0H57M52 364.5H57M52 287.0H57M52 209.5H57M52 131.5H57M52 54.5H57M175.5 538V543M343.5 538V543M511.5 538V543M679.5 538V543M848.5 538V543" fill="none" stroke="#000" stroke-width="1" shape-rendering="crispEdges"/>
<text x="47.4" y="524.5" text-anchor="end" class="t">0</text>
<text x="46.4" y="447" text-anchor="end" class="t">10</text>
<text x="47.5" y="369.5" text-anchor="end" class="t">20</text>
<text x="46.4" y="292" text-anchor="end" class="t">30</text>
<text x="46.4" y="214.5" text-anchor="end" class="t">40</text>
<text x="46.4" y="136.5" text-anchor="end" class="t">50</text>
<text x="47.5" y="59.5" text-anchor="end" class="t">60</text>
<text x="174.9" y="557.2" text-anchor="middle" class="t" textLength="145.7" lengthAdjust="spacingAndGlyphs">2025-01-09 23:38:00</text>
<text x="342.9" y="557.2" text-anchor="middle" class="t" textLength="145.7" lengthAdjust="spacingAndGlyphs">2025-01-09 23:39:00</text>
<text x="510.9" y="557.2" text-anchor="middle" class="t" textLength="145.7" lengthAdjust="spacingAndGlyphs">2025-01-09 23:40:00</text>
<text x="678.9" y="557.2" text-anchor="middle" class="t" textLength="145.7" lengthAdjust="spacingAndGlyphs">2025-01-09 23:41:00</text>
<text x="847.9" y="557.2" text-anchor="middle" class="t" textLength="145.7" lengthAdjust="spacingAndGlyphs">2025-01-09 23:42:00</text>
<text x="518.6" y="24.0" text-anchor="middle" class="ti" textLength="163.2" lengthAdjust="spacingAndGlyphs">Detections in Delay</text>
<text x="518.1" y="576.7" text-anchor="middle" class="t" textLength="77.1" lengthAdjust="spacingAndGlyphs">Time (UTC)</text>
<text transform="translate(19.8 285.3) rotate(-90)" x="0" y="0" text-anchor="middle" class="t" textLength="134.0" lengthAdjust="spacingAndGlyphs">Bistatic Delay (km)</text>
</svg>
</body></html>
